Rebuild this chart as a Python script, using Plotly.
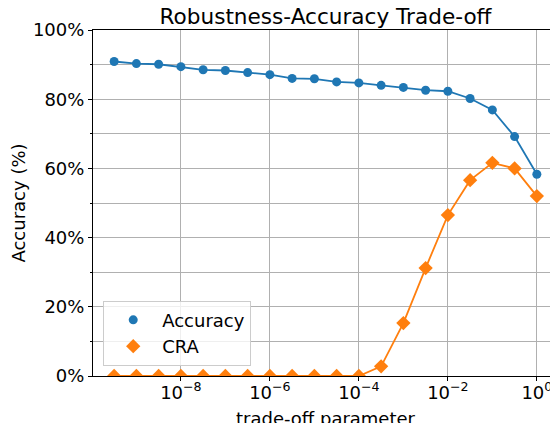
import plotly.graph_objects as go

exponents = [-9.5, -9, -8.5, -8, -7.5, -7, -6.5, -6, -5.5, -5, -4.5, -4, -3.5, -3, -2.5, -2, -1.5, -1, -0.5, 0]
tradeoff = [10 ** e for e in exponents]
accuracy = [90.9, 90.3, 90.1, 89.4, 88.5, 88.3, 87.7, 87.1, 86.0, 85.9, 85.0, 84.7, 84.0, 83.4, 82.6, 82.3, 80.2, 76.9, 69.2, 58.3]
cra = [0, 0, 0, 0, 0, 0, 0, 0, 0, 0, 0, 0, 2.8, 15.3, 31.2, 46.5, 56.6, 61.6, 60.0, 52.0]
x_tick_vals = [1e-8, 1e-6, 1e-4, 1e-2, 1e0]
x_tick_text = ["10<sup>\u22128</sup>", "10<sup>\u22126</sup>", "10<sup>\u22124</sup>", "10<sup>\u22122</sup>", "10<sup>0</sup>"]
y_tick_vals = [0, 20, 40, 60, 80, 100]
y_tick_text = ["0%", "20%", "40%", "60%", "80%", "100%"]

BLUE = "#1f77b4"
ORANGE = "#ff7f0e"
FONT = "DejaVu Sans"

# The page body has an 8px margin, so the figure is drawn 8px right/down.
W, H = 550, 415

fig = go.Figure()
fig.add_trace(go.Scatter(x=tradeoff, y=accuracy, mode="lines", line=dict(color=BLUE, width=1.8), showlegend=False))
fig.add_trace(go.Scatter(x=tradeoff, y=cra, mode="lines", line=dict(color=ORANGE, width=1.8), showlegend=False))
fig.add_trace(go.Scatter(x=tradeoff, y=accuracy, mode="markers", name="Accuracy",
                         marker=dict(color=BLUE, size=9, symbol="circle")))
fig.add_trace(go.Scatter(x=tradeoff, y=cra, mode="markers", name="CRA",
                         marker=dict(color=ORANGE, size=11, symbol="diamond")))

fig.update_layout(
    width=W, height=H,
    margin=dict(l=85, r=0, t=22, b=47, autoexpand=False),
    paper_bgcolor="white", plot_bgcolor="white",
    font=dict(family=FONT, size=18, color="black"),
    title=dict(text="Robustness-Accuracy Trade-off", x=(85 + 550) / 2 / W, xanchor="center",
               y=1 - 16 / H, yanchor="bottom", font=dict(size=21.6, family=FONT)),
    legend=dict(x=0.022, y=0.03, xanchor="left", yanchor="bottom",
                bgcolor="rgba(255,255,255,0.8)", bordercolor="#cccccc", borderwidth=1,
                font=dict(size=18, family=FONT), itemwidth=48, tracegroupgap=0),
    showlegend=True,
    annotations=[dict(text="trade-off parameter", xref="paper", yref="paper",
                      x=0.5, y=-0.158, xanchor="center", yanchor="bottom",
                      showarrow=False, font=dict(size=18, family=FONT))],
)
fig.update_xaxes(
    type="log", range=[-9.975, 0.475], automargin=False,
    tickvals=x_tick_vals, ticktext=x_tick_text,
    showgrid=True, gridcolor="#b0b0b0", gridwidth=1,
    showline=True, linecolor="black", linewidth=1, mirror=True,
    ticks="outside", ticklen=4, tickcolor="black", ticklabelstandoff=-4,
    zeroline=False,
)
fig.update_yaxes(
    range=[0, 100], automargin=False,
    tickvals=y_tick_vals, ticktext=y_tick_text,
    showgrid=True, gridcolor="#b0b0b0", gridwidth=1,
    minor=dict(tickvals=[10, 30, 50, 70, 90], showgrid=True, gridcolor="#b0b0b0", gridwidth=1,
               ticks="outside", ticklen=2.5, tickcolor="black"),
    showline=True, linecolor="black", linewidth=1, mirror=True,
    ticks="outside", ticklen=4, tickcolor="black",
    title=dict(text="Accuracy (%)", font=dict(size=18), standoff=8),
    zeroline=False,
)

fig.write_html("out.html")
